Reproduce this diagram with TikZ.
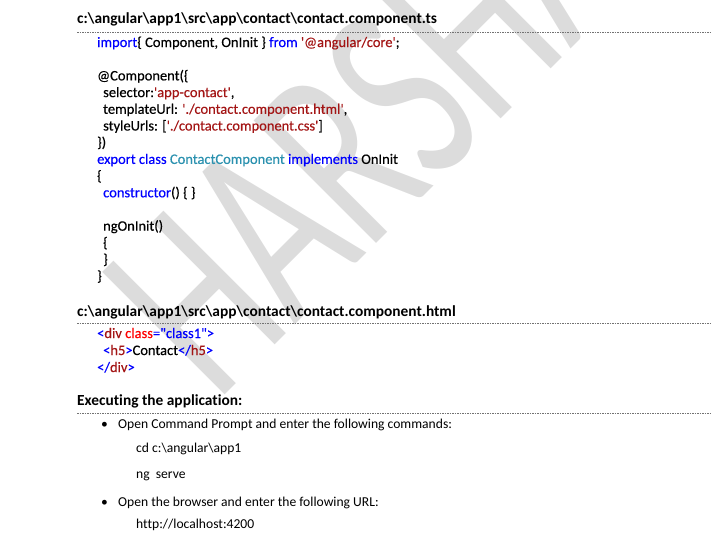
\documentclass[tikz,border=0pt]{standalone}
\usepackage{fontspec}
\setmainfont{Carlito}[Ligatures=CommonOff]
\newfontfamily\codefont{Carlito}[Ligatures=CommonOff, FakeBold=0.35]
\usepackage{graphicx}
\usetikzlibrary{positioning}

\definecolor{kwblue}{RGB}{0,0,255}
\definecolor{strred}{RGB}{163,21,21}
\definecolor{clsteal}{RGB}{43,145,175}
\definecolor{attrred}{RGB}{255,0,0}
\definecolor{markgray}{RGB}{220,220,220}
\newcommand{\kw}[1]{\textcolor{kwblue}{#1}}
\newcommand{\str}[1]{\textcolor{strred}{#1}}
\newcommand{\cls}[1]{\textcolor{clsteal}{#1}}
\newcommand{\attr}[1]{\textcolor{attrred}{#1}}
\newcommand{\tagn}[1]{\textcolor{strred}{#1}}
\newcommand{\sq}{\textquotesingle}
\newcommand{\dq}{\textquotedbl}
\newcommand{\bs}{\textbackslash}

\begin{document}
\begin{tikzpicture}[
		x=1pt, y=-1pt,
		watermark/.style={anchor=base west, inner sep=0pt, rotate=45, text=markgray,
			font=\fontsize{270}{270}\selectfont},
		pathhead/.style={anchor=base west, inner sep=0pt, font=\bfseries\fontsize{15.4}{18}\selectfont},
		codeline/.style={anchor=base west, inner sep=0pt, font=\codefont\fontsize{14.5}{16}\selectfont},
		textline/.style={anchor=base west, inner sep=0pt, font=\fontsize{13.6}{16}\selectfont},
		bulletdot/.style={anchor=base, inner sep=0pt, font=\fontsize{13.6}{16}\selectfont},
		rule/.style={draw=black!55, line width=0.6pt, dash pattern=on 1.5pt off 1pt}]
	\useasboundingbox (0,0) rectangle (725,541);
	
	% watermark behind the text
	\node[watermark] (mark) at (216,404) {\scalebox{0.66}[1]{HARSHA}};
	
	% contact.component.ts
	\node[pathhead] (ts_path) at (77,23.5) {c:\bs angular\bs app1\bs src\bs app\bs contact\bs contact.component.ts};
	\coordinate (ts_rule_a) at (77,32.3);
	\coordinate (ts_rule_b) at (710,32.3);
	\draw[rule] (ts_rule_a) -- (ts_rule_b);
	\node[codeline] (ts_import) at (97,47) {\kw{import}\{ Component, OnInit \} \kw{from} \str{\sq @angular/core\sq};};
	\node[codeline] (ts_decorator) at (97,80.4) {@Component(\{};
	\node[codeline] (ts_selector) at (103,97.1) {selector:\str{\sq app-contact\sq},};
	\node[codeline] (ts_template) at (103,113.8) {templateUrl: \str{\sq ./contact.component.html\sq},};
	\node[codeline] (ts_styles) at (103,130.5) {styleUrls: [\str{\sq ./contact.component.css\sq}]};
	\node[codeline] (ts_decorator_end) at (97,147.2) {\})};
	\node[codeline] (ts_class) at (97,163.9) {\kw{export class} \cls{ContactComponent} \kw{implements} OnInit};
	\node[codeline] (ts_class_open) at (97,180.6) {\{};
	\node[codeline] (ts_ctor) at (103,197.3) {\kw{constructor}() \{ \}};
	\node[codeline] (ts_init) at (103,230.7) {ngOnInit()};
	\node[codeline] (ts_init_open) at (103,247.4) {\{};
	\node[codeline] (ts_init_close) at (103,264.1) {\}};
	\node[codeline] (ts_class_close) at (97,280.8) {\}};
	
	% contact.component.html
	\node[pathhead] (html_path) at (77,316.7) {c:\bs angular\bs app1\bs src\bs app\bs contact\bs contact.component.html};
	\coordinate (html_rule_a) at (77,323);
	\coordinate (html_rule_b) at (710,323);
	\draw[rule] (html_rule_a) -- (html_rule_b);
	\node[codeline] (html_div) at (97,338) {\kw{<}\tagn{div} \attr{class}\kw{=\dq class1\dq>}};
	\node[codeline] (html_h5) at (103,355) {\kw{<}\tagn{h5}\kw{>}Contact\kw{</}\tagn{h5}\kw{>}};
	\node[codeline] (html_div_end) at (97,372) {\kw{</}\tagn{div}\kw{>}};
	
	% executing the application
	\node[pathhead] (run_head) at (77,405) {Executing the application:};
	\coordinate (run_rule_a) at (77,413);
	\coordinate (run_rule_b) at (710,413);
	\draw[rule] (run_rule_a) -- (run_rule_b);
	\node[bulletdot] (run_dot1) at (104.5,428) {\textbullet};
	\node[textline] (run_step1) at (118,428) {Open Command Prompt and enter the following commands:};
	\node[textline] (run_cd) at (136,452) {cd c:\bs angular\bs app1};
	\node[textline] (run_serve) at (136,478) {ng\ \ serve};
	\node[bulletdot] (run_dot2) at (104.5,506) {\textbullet};
	\node[textline] (run_step2) at (118,506) {Open the browser and enter the following URL:};
	\node[textline] (run_url) at (136,528) {http://localhost:4200};
\end{tikzpicture}
\end{document}
